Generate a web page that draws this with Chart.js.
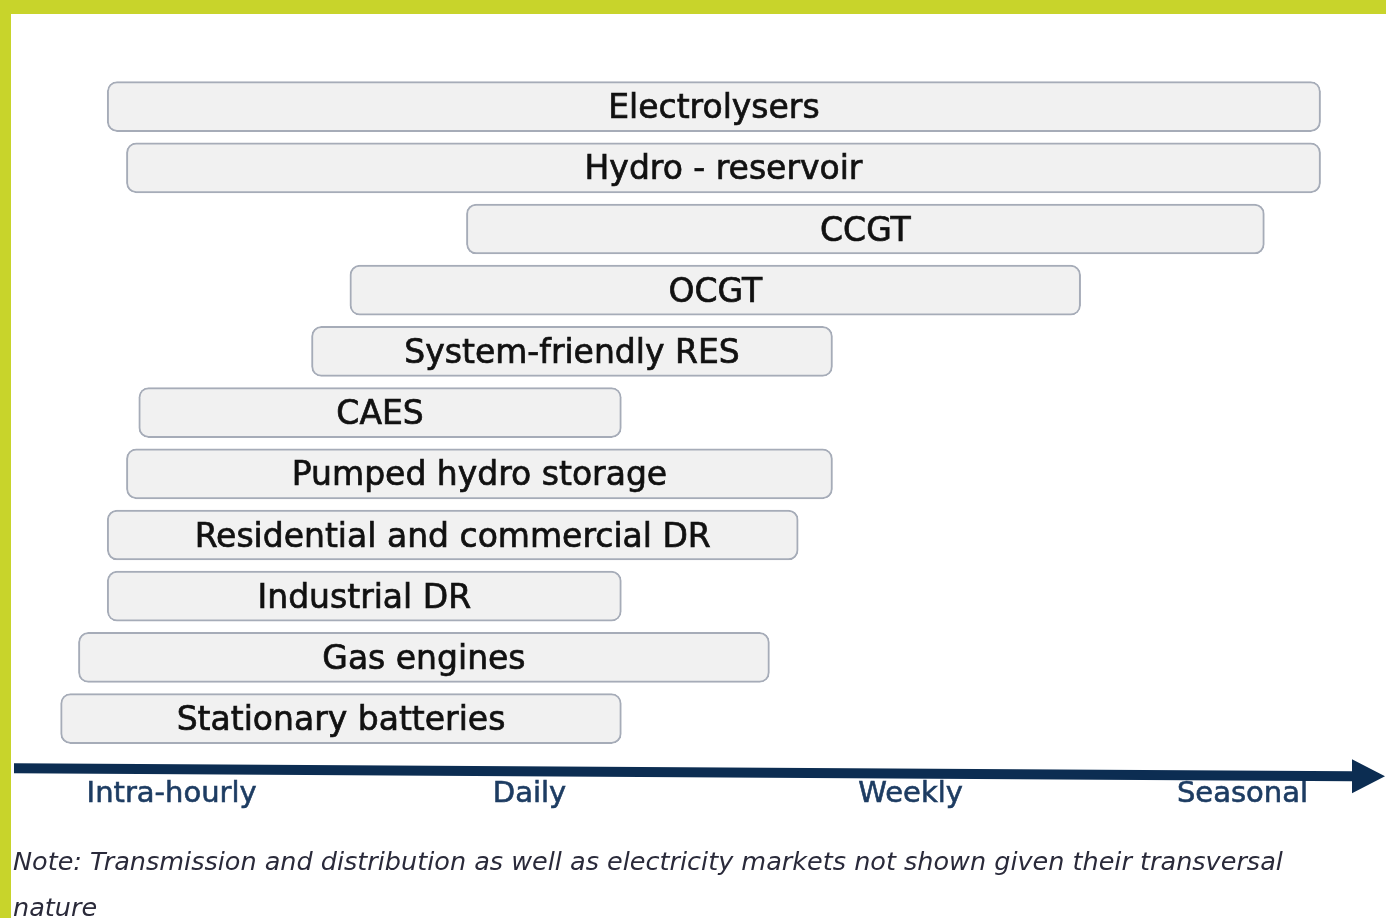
<!DOCTYPE html>
<html>
<head>
<meta charset="utf-8">
<script src="https://cdn.jsdelivr.net/npm/chart.js@4/dist/chart.umd.min.js"></script>
<style>
  html, body { margin: 0; padding: 0; background: #fff; }
  #frame {
    position: absolute; left: 0; top: 0; width: 1386px; height: 918px;
    box-sizing: border-box; border-top: 14px solid #c8d42b; border-left: 11px solid #c8d42b;
    overflow: hidden;
  }
  #wrap { position: absolute; left: 0; top: 0; width: 1375px; height: 904px; }
  #note {
    position: absolute; left: 2px; top: 824px; width: 1320px;
    font-family: "DejaVu Sans", sans-serif; font-style: italic; font-size: 25.5px;
    line-height: 46px; color: #2a2a3a;
  }
</style>
</head>
<body>
<div id="frame">
  <div id="wrap"><canvas id="chart"></canvas></div>
  <div id="note">Note: Transmission and distribution as well as electricity markets not shown given their transversal nature</div>
</div>
<script>
// time-horizon position on a 0-100 scale (left end of arrow = 0, tip = 100)
const technologies = ['Electrolysers', 'Hydro - reservoir', 'CCGT', 'OCGT', 'System-friendly RES', 'CAES',
  'Pumped hydro storage', 'Residential and commercial DR', 'Industrial DR', 'Gas engines', 'Stationary batteries'];
const rangeStart = [6.8, 8.2, 33.0, 24.5, 21.7, 9.1, 8.2, 6.8, 6.8, 4.7, 3.4];
const rangeEnd = [95.3, 95.3, 91.2, 77.8, 59.7, 44.3, 59.7, 57.2, 44.3, 55.1, 44.3];
const horizonLabels = ['Intra-hourly', 'Daily', 'Weekly', 'Seasonal'];
const horizonValues = [11.5, 37.6, 65.4, 89.6];

const ranges = technologies.map((t, i) => [rangeStart[i], rangeEnd[i]]);

const barLabels = {
    id: 'barLabels',
    afterDatasetsDraw(chart) {
        const ctx = chart.ctx;
        const meta = chart.getDatasetMeta(0);
        ctx.save();
        ctx.font = '33px "DejaVu Sans", sans-serif';
        ctx.fillStyle = '#111111';
        ctx.strokeStyle = '#111111';
        ctx.lineWidth = 0.7;
        ctx.textAlign = 'center';
        ctx.textBaseline = 'middle';
        meta.data.forEach((bar, i) => {
            const cx = (bar.x + bar.base) / 2;
            ctx.fillText(technologies[i], cx, bar.y + 3);
            ctx.strokeText(technologies[i], cx, bar.y + 3);
        });
        ctx.restore();
    }
};

const timeArrow = {
    id: 'timeArrow',
    afterDraw(chart) {
        const ctx = chart.ctx;
        const x = chart.scales.x;
        const x0 = x.getPixelForValue(0);
        const x1 = x.getPixelForValue(100);
        const yL = chart.chartArea.bottom + 19;
        const yR = chart.chartArea.bottom + 27;
        const head = 33;
        ctx.save();
        ctx.fillStyle = '#0c2d52';
        ctx.beginPath();
        ctx.moveTo(x0, yL - 5);
        ctx.lineTo(x1 - head, yR - 5);
        ctx.lineTo(x1 - head, yR - 17);
        ctx.lineTo(x1, yR);
        ctx.lineTo(x1 - head, yR + 17);
        ctx.lineTo(x1 - head, yR + 5);
        ctx.lineTo(x0, yL + 5);
        ctx.closePath();
        ctx.fill();
        ctx.restore();
    }
};

const ctx = document.getElementById('chart').getContext('2d');
const chart = new Chart(ctx, {
    type: 'bar',
    data: {
        labels: technologies,
        datasets: [{
            data: ranges,
            backgroundColor: '#f1f1f1',
            borderColor: '#a6acb8',
            borderWidth: 2,
            borderRadius: 10,
            borderSkipped: false,
            barThickness: 50
        }]
    },
    options: {
        indexAxis: 'y',
        responsive: true,
        maintainAspectRatio: false,
        animation: false,
        layout: {
            padding: { top: 62, left: 3, right: 1, bottom: 78 }
        },
        plugins: {
            legend: { display: false },
            tooltip: { enabled: false }
        },
        scales: {
            y: { display: false },
            x: {
                min: 0,
                max: 100,
                grid: { display: false, drawTicks: false },
                border: { display: false },
                afterBuildTicks(scale) {
                    scale.ticks = horizonValues.map(v => ({ value: v }));
                },
                ticks: {
                    autoSkip: false,
                    maxRotation: 0,
                    padding: 28,
                    color: '#1d3c62',
                    textStrokeColor: '#1d3c62',
                    textStrokeWidth: 0.6,
                    font: { family: '"DejaVu Sans", sans-serif', size: 29 },
                    callback(value) {
                        const i = horizonValues.indexOf(value);
                        return i >= 0 ? horizonLabels[i] : '';
                    }
                }
            }
        }
    },
    plugins: [barLabels, timeArrow]
});
</script>
</body>
</html>
